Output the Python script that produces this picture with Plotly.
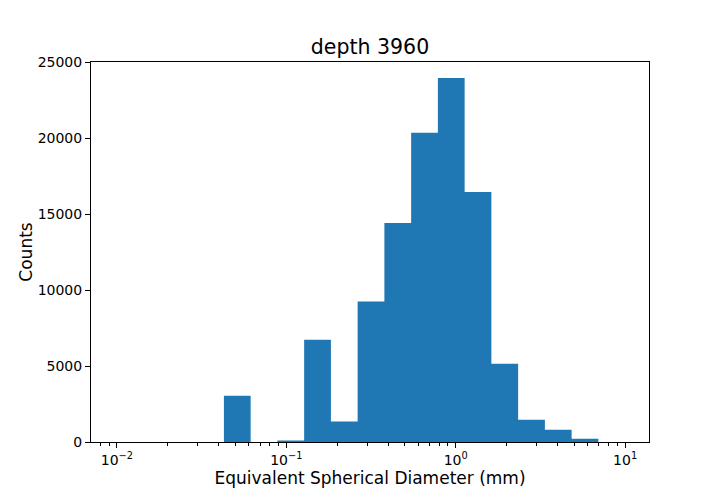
import numpy as np
import plotly.graph_objects as go

# histogram of equivalent spherical diameter, log-spaced bins
bin_edges = np.logspace(-2, 1, 20)
counts = [0, 0, 0, 0, 3040, 0, 100, 6720, 1350, 9240, 14410,
          20340, 23950, 16440, 5140, 1465, 808, 217, 0]

title = "depth 3960"
x_label = "Equivalent Spherical Diameter (mm)"
y_label = "Counts"
x_tickvals = [0.01, 0.1, 1, 10]
x_ticktext = ["10<sup>\u22122</sup>", "10<sup>\u22121</sup>", "10<sup>0</sup>", "10<sup>1</sup>"]
y_tickvals = [0, 5000, 10000, 15000, 20000, 25000]
y_ticktext = [str(v) for v in y_tickvals]

blue = "#1f77b4"
font = "DejaVu Sans"

fig = go.Figure()

# step outline filled down to zero == matplotlib bars without edges
fig.add_trace(go.Scatter(
    x=list(bin_edges),
    y=list(counts) + [counts[-1]],
    mode="lines",
    line=dict(shape="hv", width=0, color=blue),
    fill="tozeroy",
    fillcolor=blue,
    showlegend=False,
    hoverinfo="skip",
))

minor_vals = [m * 10.0 ** k for k in range(-3, 2) for m in range(2, 10)]

# the page adds ~7px body margin, so margins are shifted to compensate
fig.update_layout(
    width=720, height=504,
    margin=dict(l=83, r=79, t=54, b=70),
    paper_bgcolor="white", plot_bgcolor="white",
    font=dict(family=font, size=14, color="black"),
    title=dict(text=title, x=(83 + 641) / 2 / 720, xanchor="center",
               y=1 - 39 / 504, yanchor="middle",
               font=dict(family=font, size=20.5, color="black")),
    xaxis=dict(
        type="log", range=[-2.153, 1.141], automargin=False,
        tickmode="array", tickvals=x_tickvals, ticktext=x_ticktext,
        ticks="outside", ticklen=5, tickwidth=1, tickcolor="black",
        minor=dict(tickmode="array", tickvals=minor_vals, ticks="outside",
                   ticklen=2.5, tickwidth=0.8, tickcolor="black", showgrid=False),
        showline=True, mirror=True, linecolor="black", linewidth=1,
        showgrid=False, zeroline=False,
        title=dict(text=x_label, font=dict(size=17), standoff=4),
        tickfont=dict(size=14),
    ),
    yaxis=dict(
        range=[0, 25000], automargin=False,
        tickmode="array", tickvals=y_tickvals, ticktext=y_ticktext,
        ticks="outside", ticklen=5, tickwidth=1, tickcolor="black",
        showline=True, mirror=True, linecolor="black", linewidth=1,
        showgrid=False, zeroline=False,
        title=dict(text=y_label, font=dict(size=17), standoff=0),
        tickfont=dict(size=14),
    ),
)

fig.write_html("out.html")
